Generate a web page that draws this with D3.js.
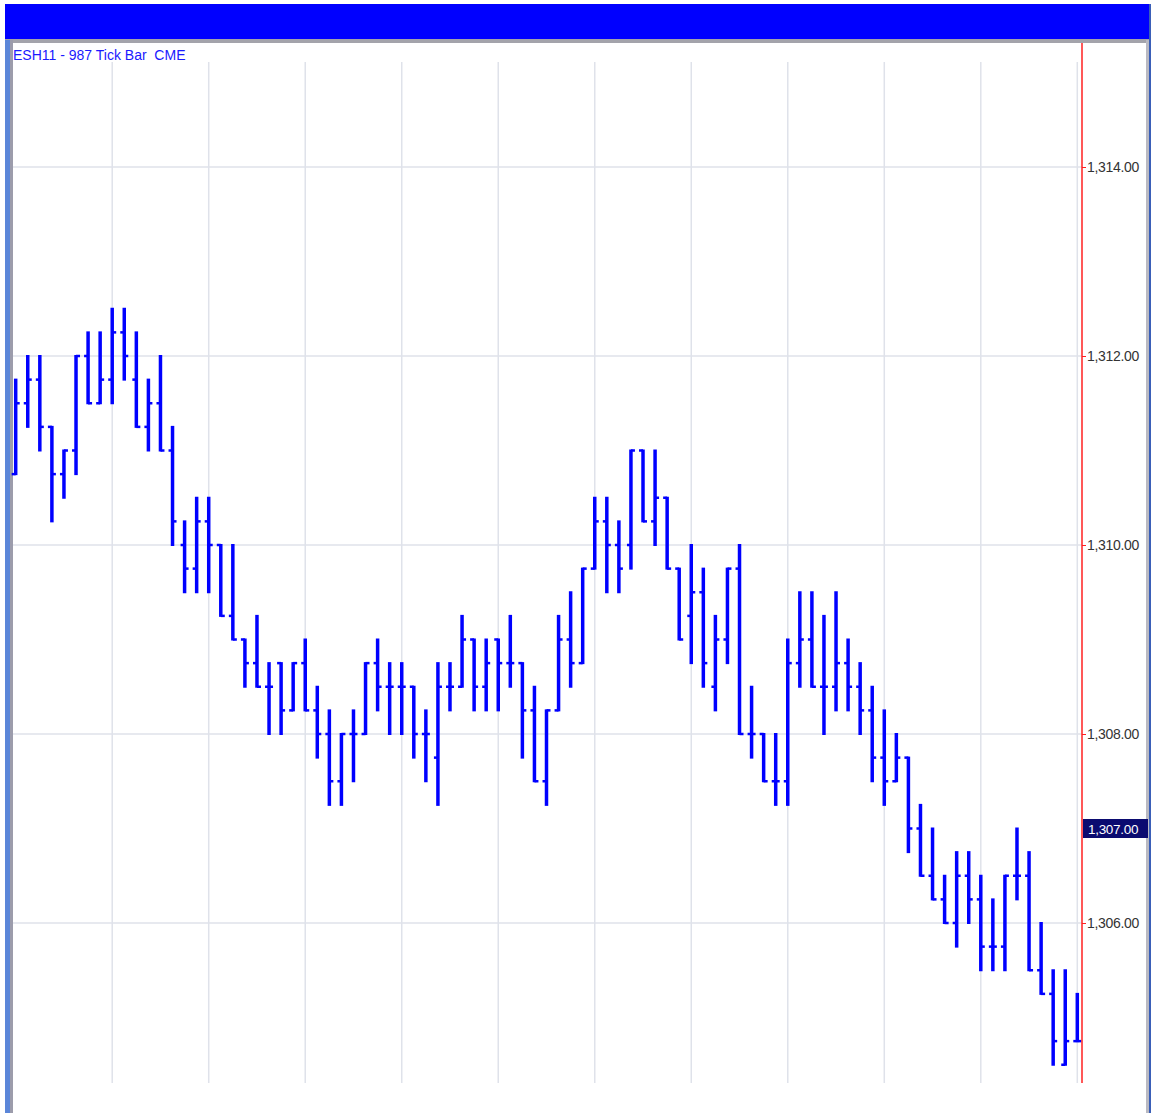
<!DOCTYPE html>
<html lang="en">
<head>
<meta charset="UTF-8">
<title>ESH11 - 987 Tick Bar</title>
<script src="https://cdn.jsdelivr.net/npm/d3@7"></script>
<style>
  body { margin: 0; background: #fff; }
  .grid { stroke: #dfe2ea; stroke-width: 1.5px; }
  .bar { stroke: #0000ff; stroke-width: 3.5px; }
  .tick-oc { stroke: #0000ff; stroke-width: 2.5px; }
  .axis text { font-family: "Liberation Sans", Arial, sans-serif; font-size: 14px; fill: #333; letter-spacing: -0.3px; }
</style>
</head>
<body>
<svg width="1153" height="1116"></svg>
<script>
// OHLC values, one entry per tick bar
var opens  = [1310.75,1311.5,1311.75,1311.25,1310.75,1311,1312,1311.5,1311.75,1312.25,
              1311.75,1311.25,1311.5,1311,1310,1309.75,1310.25,1310,1309.25,1309,
              1308.75,1308.5,1308.75,1308.25,1308.75,1308.25,1308,1307.5,1308,1308,
              1308.75,1308.5,1308.5,1308.5,1308,1307.75,1308.5,1308.5,1309,1308.5,
              1309,1308.75,1308.75,1308.25,1307.5,1308.25,1309,1308.75,1309.75,1310.25,
              1310,1310,1311,1310.25,1310.5,1309.75,1309.25,1309.5,1308.5,1309,
              1309.75,1308,1308,1307.5,1307.5,1308.75,1309,1308.5,1308.5,1308.75,
              1308.5,1308.25,1307.75,1307.5,1307.75,1307,1306.5,1306.25,1306,1306.5,
              1306.25,1305.75,1305.75,1306.5,1306.5,1305.5,1305.25,1304.5,1304.75];
var highs  = [1311.75,1312,1312,1311.25,1311,1312,1312.25,1312.25,1312.5,1312.5,
              1312.25,1311.75,1312,1311.25,1310.25,1310.5,1310.5,1310,1310,1309,
              1309.25,1308.75,1308.75,1308.75,1309,1308.5,1308.25,1308,1308.25,1308.75,
              1309,1308.75,1308.75,1308.5,1308.25,1308.75,1308.75,1309.25,1309,1309,
              1309,1309.25,1308.75,1308.5,1308.25,1309.25,1309.5,1309.75,1310.5,1310.5,
              1310.25,1311,1311,1311,1310.5,1309.75,1310,1309.75,1309.25,1309.75,
              1310,1308.5,1308,1308,1309,1309.5,1309.5,1309.25,1309.5,1309,
              1308.75,1308.5,1308.25,1308,1307.75,1307.25,1307,1306.5,1306.75,1306.75,
              1306.5,1306.25,1306.5,1307,1306.75,1306,1305.5,1305.5,1305.25];
var lows   = [1310.75,1311.25,1311,1310.25,1310.5,1310.75,1311.5,1311.5,1311.5,1311.75,
              1311.25,1311,1311,1310,1309.5,1309.5,1309.5,1309.25,1309,1308.5,
              1308.5,1308,1308,1308.25,1308.25,1307.75,1307.25,1307.25,1307.5,1308,
              1308.25,1308,1308,1307.75,1307.5,1307.25,1308.25,1308.5,1308.25,1308.25,
              1308.25,1308.5,1307.75,1307.5,1307.25,1308.25,1308.5,1308.75,1309.75,1309.5,
              1309.5,1309.75,1310.25,1310,1309.75,1309,1308.75,1308.5,1308.25,1308.75,
              1308,1307.75,1307.5,1307.25,1307.25,1308.5,1308.5,1308,1308.25,1308.25,
              1308,1307.5,1307.25,1307.5,1306.75,1306.5,1306.25,1306,1305.75,1306,
              1305.5,1305.5,1305.5,1306.25,1305.5,1305.25,1304.5,1304.5,1304.75];
var closes = [1311.5,1311.75,1311.25,1310.75,1311,1312,1311.5,1311.75,1312.25,1312,
              1311.25,1311.5,1311,1310.25,1309.75,1310.25,1310,1309.25,1309,1308.75,
              1308.5,1308.5,1308.25,1308.75,1308.25,1308,1307.5,1308,1308,1308.75,
              1308.5,1308.5,1308.5,1308,1308,1308.5,1308.5,1309,1308.5,1308.75,
              1308.75,1308.75,1308.25,1307.5,1308.25,1309,1308.75,1309.75,1310.25,1310,
              1309.75,1311,1310.25,1310.5,1309.75,1309,1309.5,1308.75,1309,1309.75,
              1308,1308,1307.5,1307.5,1308.75,1309,1308.5,1308.5,1308.75,1308.5,
              1308.25,1307.75,1307.5,1307.75,1307,1306.5,1306.25,1306,1306.5,1306.25,
              1305.75,1305.75,1306.5,1306.5,1305.5,1305.25,1304.75,1304.75,1304.75];

var priceTicks = [1306, 1308, 1310, 1312, 1314];
var lastPrice = 1307.00;
var title = "ESH11 - 987 Tick Bar  CME";

var svg = d3.select("svg");

var x = d3.scaleLinear().domain([0, opens.length - 1]).range([15.7, 1077.3]);
var y = d3.scaleLinear().domain([1306, 1314]).range([923, 167]);

var plotLeft = 13, plotRight = 1082, plotTop = 43, plotBottom = 1083;

// window frame
svg.append("rect").attr("x", 5).attr("y", 4).attr("width", 1146).attr("height", 36).attr("fill", "#0000ff");
svg.append("rect").attr("x", 5).attr("y", 39).attr("width", 1144).attr("height", 4).attr("fill", "#a3a3ab");
svg.append("rect").attr("x", 5).attr("y", 40).attr("width", 5).attr("height", 1073).attr("fill", "#5b86d8");
svg.append("rect").attr("x", 10).attr("y", 40).attr("width", 3).attr("height", 1073).attr("fill", "#9c9cab");
svg.append("rect").attr("x", 1146).attr("y", 40).attr("width", 3).attr("height", 1073).attr("fill", "#b9b9c2");
svg.append("rect").attr("x", 1149).attr("y", 4).attr("width", 2).attr("height", 1109).attr("fill", "#3a5fb8");

// grid
svg.append("g").selectAll("line").data(priceTicks).enter().append("line")
    .attr("class", "grid")
    .attr("x1", plotLeft).attr("x2", plotRight)
    .attr("y1", function(d) { return y(d); }).attr("y2", function(d) { return y(d); });

var vIdx = d3.range(8, opens.length, 8);
svg.append("g").selectAll("line").data(vIdx).enter().append("line")
    .attr("class", "grid")
    .attr("x1", function(d) { return x(d); }).attr("x2", function(d) { return x(d); })
    .attr("y1", 62).attr("y2", plotBottom);

// title
svg.append("text").attr("x", 13).attr("y", 60)
    .attr("font-family", "Liberation Sans, Arial, sans-serif").attr("font-size", 14)
    .attr("fill", "#1a1aff").style("white-space", "pre").text(title);

// OHLC bars
var bars = svg.append("g").selectAll("g").data(opens).enter().append("g");
bars.append("line").attr("class", "bar")
    .attr("x1", function(d, i) { return x(i); }).attr("x2", function(d, i) { return x(i); })
    .attr("y1", function(d, i) { return y(highs[i]) - 1; })
    .attr("y2", function(d, i) { return y(lows[i]) + 1; });
bars.append("line").attr("class", "tick-oc")
    .attr("x1", function(d, i) { return x(i) - 4; }).attr("x2", function(d, i) { return x(i); })
    .attr("y1", function(d) { return y(d); }).attr("y2", function(d) { return y(d); });
bars.append("line").attr("class", "tick-oc")
    .attr("x1", function(d, i) { return x(i); }).attr("x2", function(d, i) { return x(i) + 4; })
    .attr("y1", function(d, i) { return y(closes[i]); }).attr("y2", function(d, i) { return y(closes[i]); });

// right price axis
svg.append("line").attr("x1", plotRight).attr("x2", plotRight)
    .attr("y1", plotTop).attr("y2", plotBottom)
    .attr("stroke", "#ff2020").attr("stroke-width", 1.5);

var axis = d3.axisRight(y).tickValues(priceTicks).tickSize(4).tickPadding(1)
    .tickFormat(d3.format(",.2f"));
var ax = svg.append("g").attr("class", "axis").attr("transform", "translate(" + plotRight + ",0)").call(axis);
ax.select(".domain").remove();
ax.selectAll(".tick line").attr("stroke", "#ff2020");

// last price marker
var lp = svg.append("g").attr("transform", "translate(" + (plotRight + 1) + "," + y(lastPrice) + ")");
lp.append("rect").attr("x", 0).attr("y", -9.5).attr("width", 65).attr("height", 19).attr("fill", "#0b0b70");
lp.append("text").attr("x", 5).attr("y", 5)
    .attr("font-family", "Liberation Sans, Arial, sans-serif").attr("font-size", 13.5)
    .attr("letter-spacing", "-0.3px")
    .attr("fill", "#fff").text(d3.format(",.2f")(lastPrice));
</script>
</body>
</html>
